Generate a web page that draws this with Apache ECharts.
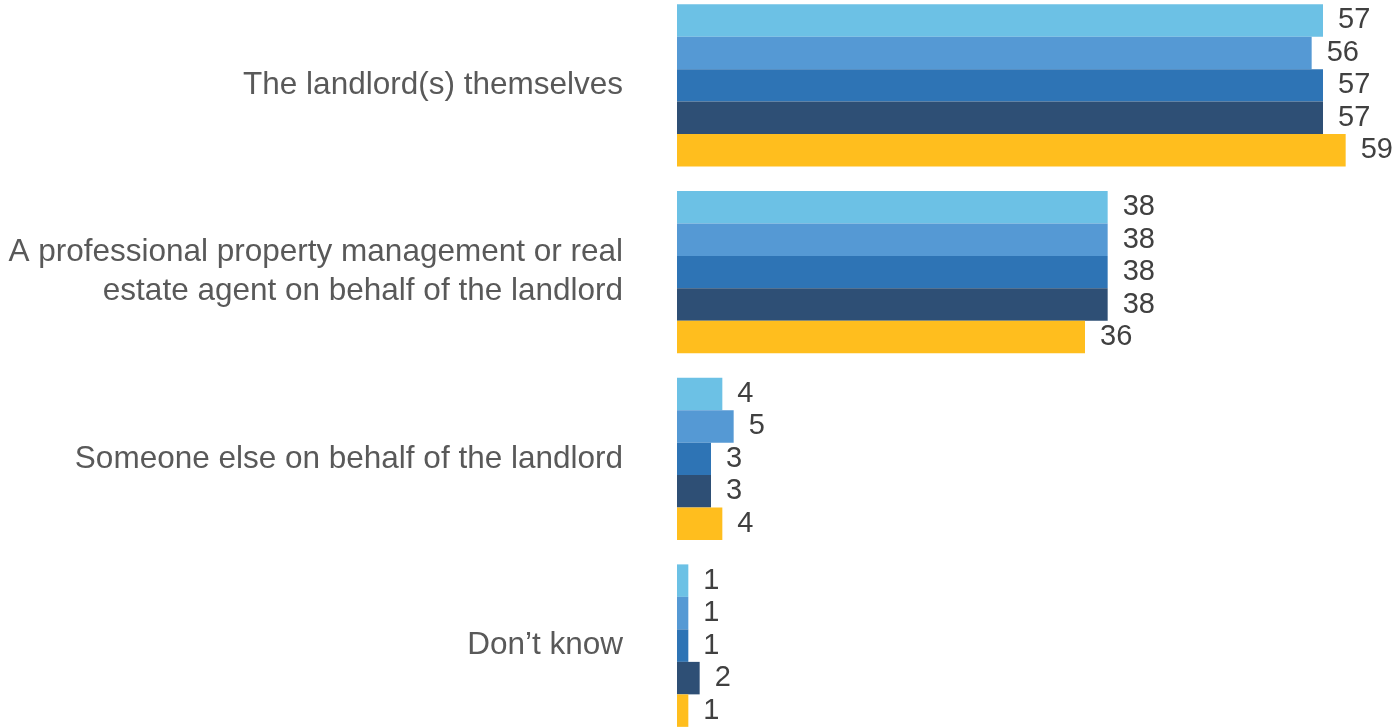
<!DOCTYPE html>
<html>
<head>
<meta charset="utf-8">
<script src="https://cdn.jsdelivr.net/npm/echarts@6/dist/echarts.min.js"></script>
<style>
html,body{margin:0;padding:0;background:#fff;}
#chart{width:1396px;height:728px;}
</style>
</head>
<body>
<div id="chart"></div>
<script>
const categories = [
  "The landlord(s) themselves",
  "A professional property management or real\nestate agent on behalf of the landlord",
  "Someone else on behalf of the landlord",
  "Don\u2019t know"
];
const seriesNames = ["Series 1", "Series 2", "Series 3", "Series 4", "Series 5"];
const series1 = [57, 38, 4, 1];
const series2 = [56, 38, 5, 1];
const series3 = [57, 38, 3, 1];
const series4 = [57, 38, 3, 2];
const series5 = [59, 36, 4, 1];
const colors = ["#6CC1E5", "#5599D4", "#2E74B5", "#2E4F75", "#FFBE1E"];

const allData = [series1, series2, series3, series4, series5];
const chart = echarts.init(document.getElementById('chart'));
chart.setOption({
  animation: false,
  grid: { left: 677, right: 39, top: -8, height: 747, containLabel: false, outerBoundsMode: 'none' },
  xAxis: { type: 'value', min: 0, max: 60, show: false },
  yAxis: {
    type: 'category', data: categories, inverse: true,
    axisLine: { show: false }, axisTick: { show: false },
    axisLabel: {
      margin: 54, fontFamily: 'Liberation Sans', fontSize: 31.5,
      color: '#595959', lineHeight: 39, align: 'right'
    }
  },
  series: allData.map((d, i) => ({
    name: seriesNames[i], type: 'bar', data: d,
    barGap: '0%', barCategoryGap: '13%',
    itemStyle: { color: colors[i] },
    label: {
      show: true, position: 'right', distance: 15,
      fontFamily: 'Liberation Sans', fontSize: 29, color: '#404040'
    }
  }))
});
</script>
</body>
</html>
